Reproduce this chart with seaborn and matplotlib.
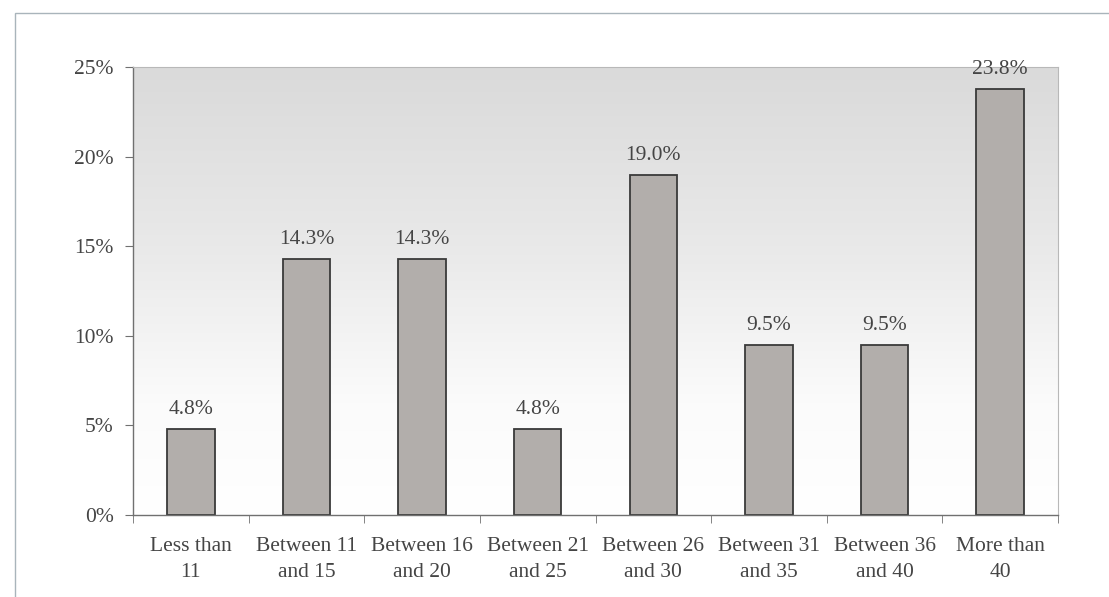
import numpy as np
import pandas as pd
import matplotlib
matplotlib.use("Agg")
import matplotlib.pyplot as plt
from matplotlib.patches import Rectangle
import seaborn as sns

categories = ["Less than\n11", "Between 11\nand 15", "Between 16\nand 20", "Between 21\nand 25",
              "Between 26\nand 30", "Between 31\nand 35", "Between 36\nand 40", "More than\n40"]
values = [4.8, 14.3, 14.3, 4.8, 19.0, 9.5, 9.5, 23.8]
yticks = [0, 5, 10, 15, 20, 25]
ytick_labels = ["0%", "5%", "10%", "15%", "20%", "25%"]

sns.set_style("white")
plt.rcParams['font.family'] = ['Liberation Serif', 'DejaVu Serif']

df = pd.DataFrame({"cat": categories, "val": values})

fig = plt.figure(figsize=(11.09, 5.97), dpi=100)
fig.patch.set_facecolor("white")
# outer frame
fig.add_artist(Rectangle((15 / 1109, -0.01), 1.1, 1 - 13 / 597 + 0.01, transform=fig.transFigure,
                         fill=False, edgecolor="#a9b4bb", linewidth=1.0))

ax = fig.add_axes([133 / 1109, 1 - 515 / 597, (1058 - 133) / 1109, (515 - 67) / 597])

# gradient background
grad = np.linspace(0, 1, 256).reshape(-1, 1)
cmap = matplotlib.colors.LinearSegmentedColormap.from_list(
    "bg", [(0.0, "#ffffff"), (0.25, "#fbfbfb"), (0.6, "#e9e9e9"), (1.0, "#dadada")])
ax.imshow(grad, aspect="auto", cmap=cmap, origin="lower",
          extent=[-0.5, 7.5, 0, 25], zorder=0)

sns.barplot(data=df, x="cat", y="val", ax=ax, color="#b2aeab", width=0.41,
            edgecolor="#3a3a3a", linewidth=1.3, saturation=1, zorder=2)

ax.set_xlim(-0.5, 7.5)
ax.set_ylim(0, 25)
ax.set_yticks(yticks)
ax.set_yticklabels(ytick_labels)
ax.set_xlabel("")
ax.set_ylabel("")

txt_color = "#454545"
for i, v in enumerate(values):
    ax.text(i, v + 0.55, f"{v:.1f}%", ha="center", va="bottom", fontsize=15.5, color=txt_color)

for s in ["top", "right"]:
    ax.spines[s].set_color("#b8b8b8")
    ax.spines[s].set_linewidth(0.8)
for s in ["left", "bottom"]:
    ax.spines[s].set_color("#707070")
    ax.spines[s].set_linewidth(1.0)

ax.set_xticks(np.arange(-0.5, 8.0, 1.0), minor=True)
ax.tick_params(axis="x", which="major", length=0, pad=16, labelsize=15.5, labelcolor=txt_color)
ax.tick_params(axis="x", which="minor", length=6, color="#707070", direction="out", bottom=True)
ax.tick_params(axis="y", length=6, color="#707070", direction="out", left=True, pad=8,
               labelsize=15.5, labelcolor=txt_color)
for lab in ax.get_xticklabels():
    lab.set_linespacing(1.45)

fig.savefig("out.png", dpi=100)
